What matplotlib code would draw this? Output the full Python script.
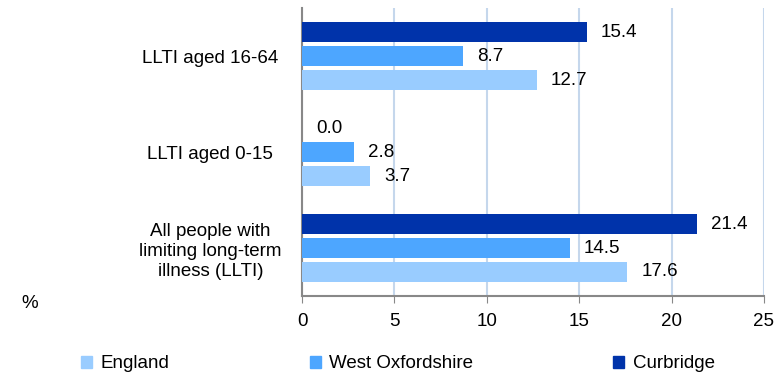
import matplotlib
matplotlib.use('Agg')
import matplotlib.pyplot as plt
from matplotlib.patches import Patch
import numpy as np

plt.rcParams['font.family'] = ['Liberation Sans', 'DejaVu Sans']

categories = ['All people with\nlimiting long-term\nillness (LLTI)', 'LLTI aged 0-15', 'LLTI aged 16-64']
england = [17.6, 3.7, 12.7]
west_oxon = [14.5, 2.8, 8.7]
curbridge = [21.4, 0.0, 15.4]
series_names = ['England', 'West Oxfordshire', 'Curbridge']
colors = ['#99CCFF', '#4DA6FF', '#0033AA']
fs = 13.5

fig = plt.figure(figsize=(7.76, 3.74), dpi=100)
ax = fig.add_axes([302/776, 1 - 296/374, 462/776, 288/374])

y = np.arange(len(categories))
offsets = [-0.25, 0.0, 0.25]
for vals, off, col in zip([england, west_oxon, curbridge], offsets, colors):
    bars = ax.barh(y + off, vals, height=0.21, color=col, zorder=3)
    for b, v in zip(bars, vals):
        ax.annotate('%.1f' % v, (b.get_width(), b.get_y() + b.get_height() / 2),
                    xytext=(10, 0), textcoords='offset points',
                    va='center', ha='left', fontsize=fs)

ax.set_xlim(0, 25)
ax.set_ylim(-0.5, 2.5)
ax.set_xticks([0, 5, 10, 15, 20, 25])
ax.set_yticks(y)
ax.set_yticklabels(categories, fontsize=fs, linespacing=1.25)
for lbl in ax.get_yticklabels():
    lbl.set_ha('center')
    lbl.set_multialignment('center')
ax.tick_params(axis='y', length=0, pad=66)
ax.tick_params(axis='x', labelsize=fs, length=5, color='#888888', pad=7)
ax.grid(axis='x', color='#C5D7EC', linewidth=1.5, zorder=0)
for s in ['top', 'right']:
    ax.spines[s].set_visible(False)
for s in ['left', 'bottom']:
    ax.spines[s].set_color('#888888')
    ax.spines[s].set_linewidth(1.5)

fig.text(30/776, 1 - 303/374, '%', fontsize=fs, ha='center', va='center')

handles = [Patch(color=c, label=n) for c, n in zip(colors, series_names)]
fig.legend(handles=handles, loc='center left', bbox_to_anchor=(81/776, 1 - 364/374),
           ncol=3, frameon=False, fontsize=fs, handlelength=0.59, handleheight=0.59,
           handletextpad=0.43, columnspacing=7.5, borderpad=0, borderaxespad=0)

fig.savefig('out.png', dpi=100)
